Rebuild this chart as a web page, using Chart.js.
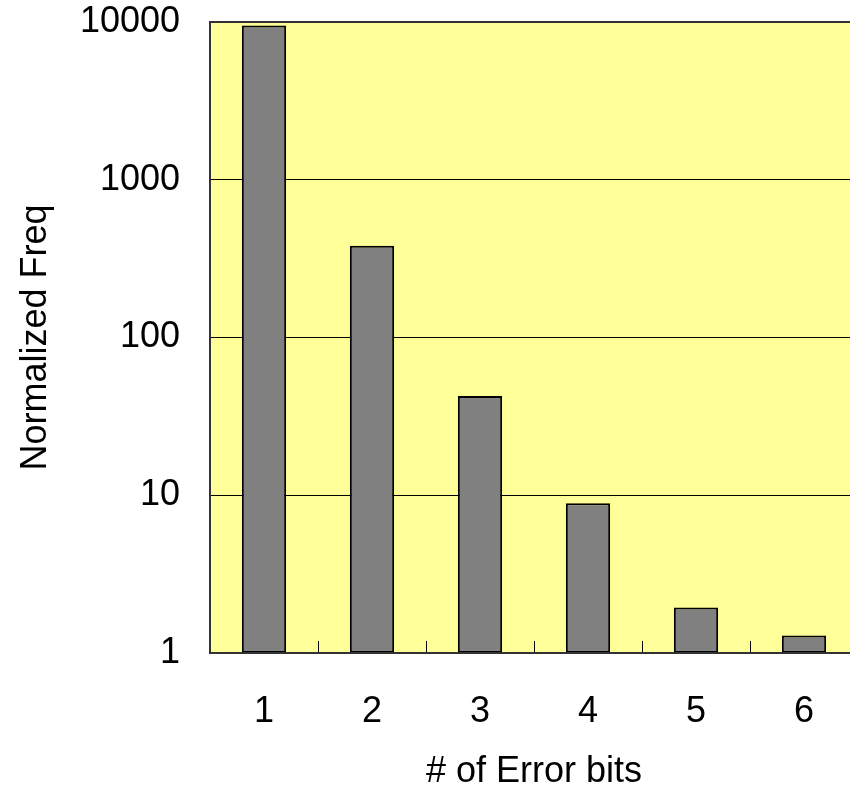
<!DOCTYPE html>
<html>
<head>
<meta charset="utf-8">
<script src="https://cdn.jsdelivr.net/npm/chart.js@4/dist/chart.umd.min.js"></script>
<style>
  html, body { margin: 0; padding: 0; overflow: hidden; background: #fff; }
  #wrap { position: absolute; left: 0; top: 0; width: 858px; height: 790px; }
</style>
</head>
<body>
<div id="wrap"><canvas id="c"></canvas></div>
<script>
const categories = ['1', '2', '3', '4', '5', '6'];
const normalizedFreq = [9500, 382, 42.5, 8.9, 1.94, 1.29];
const yTicks = [1, 10, 100, 1000, 10000];
const xTitle = '# of Error bits';
const yTitle = 'Normalized Freq';

const FONT = '"Liberation Sans", Arial, sans-serif';

const plotFrame = {
  id: 'plotFrame',
  beforeDraw(chart) {
    const a = chart.chartArea, ctx = chart.ctx;
    ctx.save();
    ctx.fillStyle = '#FFFF99';
    ctx.fillRect(a.left, a.top, a.right - a.left, a.bottom - a.top);
    ctx.restore();
  },
  afterDatasetsDraw(chart) {
    const a = chart.chartArea, ctx = chart.ctx;
    ctx.save();
    ctx.strokeStyle = '#333333';
    ctx.lineWidth = 2;
    ctx.strokeRect(a.left, a.top, a.right - a.left, a.bottom - a.top);
    ctx.restore();
  }
};

new Chart(document.getElementById('c'), {
  type: 'bar',
  data: {
    labels: categories,
    datasets: [{
      data: normalizedFreq,
      backgroundColor: '#808080',
      borderColor: '#000000',
      borderWidth: 2,
      borderSkipped: false,
      categoryPercentage: 1,
      barPercentage: 0.41
    }]
  },
  options: {
    responsive: true,
    maintainAspectRatio: false,
    animation: false,
    layout: { padding: { top: 22, left: 0, right: 0, bottom: 0 } },
    plugins: { legend: { display: false }, tooltip: { enabled: false } },
    scales: {
      x: {
        grid: { display: true, drawOnChartArea: false, drawTicks: true, tickLength: -12, color: '#000', lineWidth: 1, offset: true },
        border: { display: false },
        ticks: { color: '#000', font: { family: FONT, size: 36 }, padding: 49 },
        title: { display: true, text: xTitle, color: '#000', font: { family: FONT, size: 36, lineHeight: 1 }, padding: { top: 0, bottom: 0 } },
        afterFit(scale) { scale.height = 137; scale.paddingLeft = 0; scale.paddingRight = 0; }
      },
      y: {
        type: 'logarithmic',
        min: 1,
        max: 10000,
        afterBuildTicks(scale) { scale.ticks = yTicks.map(v => ({ value: v })); },
        grid: { display: true, drawOnChartArea: true, drawTicks: false, color: '#000', lineWidth: 1 },
        border: { display: false },
        ticks: {
          color: '#000',
          font: { family: FONT, size: 36 },
          padding: 30,
          callback: (v) => String(v)
        },
        title: { display: true, text: yTitle, color: '#000', font: { family: FONT, size: 36, lineHeight: 1 }, padding: { top: 18, bottom: 0 } },
        afterFit(scale) { scale.width = 210; scale.paddingTop = 0; scale.paddingBottom = 0; }
      }
    }
  },
  plugins: [plotFrame]
});
</script>
</body>
</html>
